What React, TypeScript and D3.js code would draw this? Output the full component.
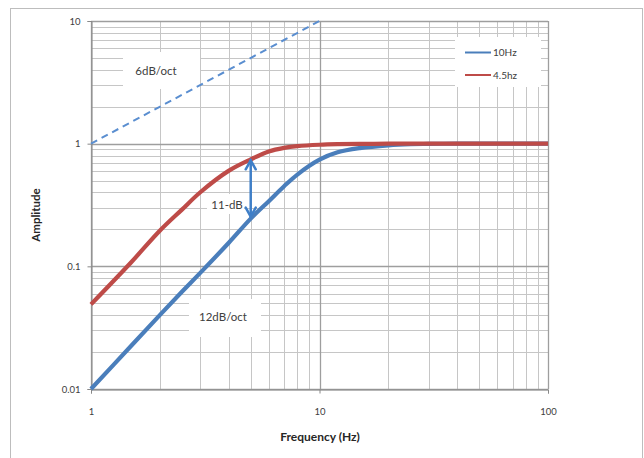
import React, { useEffect, useRef } from "react";
import * as d3 from "d3";

// frequencies (Hz)
const freqs = [1, 1.5, 2, 2.5, 3, 4, 5, 6, 7, 8, 10, 12, 15, 20, 25, 30, 40, 50, 70, 100];
// amplitude of the 10Hz series
const amp10 = [0.01, 0.0225, 0.04, 0.062, 0.088, 0.155, 0.245, 0.34, 0.45, 0.56, 0.74, 0.85, 0.92, 0.97, 0.99, 0.995, 1, 1, 1, 1];
// amplitude of the 4.5hz series
const amp45 = [0.049, 0.108, 0.195, 0.29, 0.4, 0.6, 0.745, 0.865, 0.925, 0.955, 0.98, 0.99, 0.995, 1, 1, 1, 1, 1, 1, 1];
// 6dB/oct reference line
const slopeFreqs = [1, 10];
const slopeAmps = [1, 10];

const yTicks = [0.01, 0.1, 1, 10];
const yTickLabels = ["0.01", "0.1", "1", "10"];
const xTicks = [1, 10, 100];
const xTickLabels = ["1", "10", "100"];

const seriesNames = ["10Hz", "4.5hz"];
const arrowFreq = 5;
const arrowTop = 0.76;
const arrowBottom = 0.245;

const FONT = "Lato, 'Open Sans', sans-serif";
const BLUE = "#4a7ebb";
const RED = "#be4b48";

function App() {
  const svgRef = useRef(null);

  useEffect(() => {
    const svg = d3.select(svgRef.current);
    svg.selectAll("*").remove();

    const x = d3.scaleLog().domain([1, 100]).range([91, 548]);
    const y = d3.scaleLog().domain([0.01, 10]).range([389, 21]);

    // outer chart frame
    svg.append("rect")
      .attr("x", 10.5).attr("y", 8.5)
      .attr("width", 632).attr("height", 470)
      .attr("fill", "white").attr("stroke", "#bdbdbd");

    // grid
    const minorY: number[] = [];
    for (let e = -2; e < 1; e++) for (let k = 2; k <= 9; k++) minorY.push(k * Math.pow(10, e));
    const minorX: number[] = [];
    for (let e = 0; e < 2; e++) for (let k = 2; k <= 9; k++) minorX.push(k * Math.pow(10, e));

    const grid = svg.append("g");
    grid.selectAll(".hy").data(minorY).enter().append("line")
      .attr("x1", 91).attr("x2", 548)
      .attr("y1", (d) => Math.round(y(d)) + 0.5).attr("y2", (d) => Math.round(y(d)) + 0.5)
      .attr("stroke", "#c6c6c6");
    grid.selectAll(".vx").data(minorX).enter().append("line")
      .attr("y1", 21).attr("y2", 389)
      .attr("x1", (d) => Math.round(x(d)) + 0.5).attr("x2", (d) => Math.round(x(d)) + 0.5)
      .attr("stroke", "#c6c6c6");
    grid.selectAll(".hm").data(yTicks).enter().append("line")
      .attr("x1", 91).attr("x2", 548)
      .attr("y1", (d) => Math.round(y(d)) + 0.5).attr("y2", (d) => Math.round(y(d)) + 0.5)
      .attr("stroke", "#9e9e9e").attr("stroke-width", 1.3);
    grid.selectAll(".vm").data(xTicks).enter().append("line")
      .attr("y1", 21).attr("y2", 389)
      .attr("x1", (d) => Math.round(x(d)) + 0.5).attr("x2", (d) => Math.round(x(d)) + 0.5)
      .attr("stroke", "#9e9e9e").attr("stroke-width", 1.3);

    // axes
    const yAxis = d3.axisLeft(y).tickValues(yTicks)
      .tickFormat((d, i) => yTickLabels[i]).tickSize(4).tickPadding(7);
    const gy = svg.append("g").attr("transform", "translate(91.5,0)").call(yAxis);
    const xAxis = d3.axisBottom(x).tickValues(xTicks)
      .tickFormat((d, i) => xTickLabels[i]).tickSize(4).tickPadding(15);
    const gx = svg.append("g").attr("transform", "translate(0,389.5)").call(xAxis);
    [gy, gx].forEach((g) => {
      g.select(".domain").attr("stroke", "#888888");
      g.selectAll(".tick line").attr("stroke", "#888888");
      g.selectAll("text").attr("font-family", FONT).attr("font-size", 9.5).attr("fill", "#404040");
    });

    // annotation boxes (white, over the grid)
    const boxes = [
      { x: 123, y: 52, w: 77, h: 37 },
      { x: 189, y: 299, w: 72, h: 38 },
      { x: 207, y: 194, w: 37, h: 20 },
      { x: 455, y: 37, w: 86, h: 50 },
    ];
    svg.selectAll(".box").data(boxes).enter().append("rect")
      .attr("x", (d) => d.x).attr("y", (d) => d.y)
      .attr("width", (d) => d.w).attr("height", (d) => d.h)
      .attr("fill", "white");

    const line = d3.line<[number, number]>()
      .x((d) => x(d[0])).y((d) => y(d[1]))
      .curve(d3.curveCatmullRom.alpha(0.5));

    // 6dB/oct dashed
    svg.append("path")
      .attr("d", line(slopeFreqs.map((f, i) => [f, slopeAmps[i]]) as [number, number][]))
      .attr("fill", "none").attr("stroke", "#5a8ed0")
      .attr("stroke-width", 2).attr("stroke-dasharray", "7,5");

    const series = [
      { name: seriesNames[0], vals: amp10, color: BLUE },
      { name: seriesNames[1], vals: amp45, color: RED },
    ];
    series.forEach((s) => {
      svg.append("path")
        .attr("d", line(freqs.map((f, i) => [f, s.vals[i]]) as [number, number][]))
        .attr("fill", "none").attr("stroke", s.color)
        .attr("stroke-width", 4.2).attr("stroke-linejoin", "round");
    });

    // double arrow
    const ax = x(arrowFreq);
    const yt = y(arrowTop) + 2;
    const yb = y(arrowBottom) - 2;
    const arrow = svg.append("g").attr("stroke", "#3f7fc8").attr("stroke-width", 2.5)
      .attr("fill", "none").attr("stroke-linecap", "round");
    arrow.append("line").attr("x1", ax).attr("x2", ax).attr("y1", yt).attr("y2", yb);
    arrow.append("path").attr("d", `M${ax - 5},${yt + 9}L${ax},${yt}L${ax + 5},${yt + 9}`);
    arrow.append("path").attr("d", `M${ax - 5},${yb - 9}L${ax},${yb}L${ax + 5},${yb - 9}`);

    // annotation text
    const notes = [
      { t: "6dB/oct", x: 156, y: 71, anchor: "middle" },
      { t: "12dB/oct", x: 223, y: 317, anchor: "middle" },
      { t: "11-dB", x: ax - 8, y: 205, anchor: "end" },
    ];
    svg.selectAll(".note").data(notes).enter().append("text")
      .attr("x", (d) => d.x).attr("y", (d) => d.y)
      .attr("dy", "0.35em").attr("text-anchor", (d) => d.anchor)
      .attr("font-family", FONT).attr("font-size", 11.5).attr("fill", "#404040")
      .text((d) => d.t);

    // legend
    const leg = svg.append("g");
    series.forEach((s, i) => {
      const ly = 52.5 + i * 22.5;
      leg.append("line").attr("x1", 465).attr("x2", 491).attr("y1", ly).attr("y2", ly)
        .attr("stroke", s.color).attr("stroke-width", 2);
      leg.append("text").attr("x", 493).attr("y", ly).attr("dy", "0.35em")
        .attr("font-family", FONT).attr("font-size", 10).attr("fill", "#404040")
        .text(s.name);
    });

    // axis titles
    svg.append("text")
      .attr("transform", "translate(36,215) rotate(-90)")
      .attr("text-anchor", "middle").attr("dy", "0.35em")
      .attr("font-family", FONT).attr("font-weight", "bold")
      .attr("font-size", 11.5).attr("fill", "#262626")
      .text("Amplitude");
    svg.append("text")
      .attr("x", 320).attr("y", 437).attr("dy", "0.35em")
      .attr("text-anchor", "middle")
      .attr("font-family", FONT).attr("font-weight", "bold")
      .attr("font-size", 12).attr("fill", "#262626")
      .text("Frequency (Hz)");
  }, []);

  return (
    <div style={{ position: "absolute", left: 0, top: 0 }}>
      <svg ref={svgRef} width={644} height={458} style={{ display: "block" }} />
    </div>
  );
}

export default App;
